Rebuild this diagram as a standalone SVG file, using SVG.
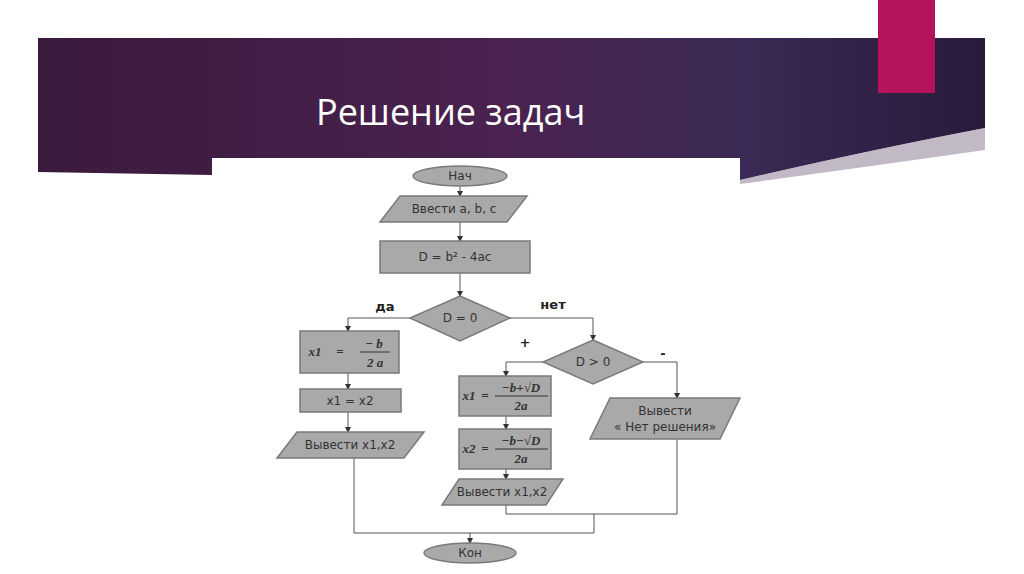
<svg xmlns="http://www.w3.org/2000/svg" width="1024" height="574" viewBox="0 0 1024 574">
<defs>
<linearGradient id="bg" x1="0" y1="0" x2="1" y2="0">
<stop offset="0" stop-color="#3a1a3c"/><stop offset="0.5" stop-color="#4a2350"/><stop offset="0.75" stop-color="#3a2a55"/><stop offset="1" stop-color="#2a1a3a"/>
</linearGradient>
<marker id="ar" markerWidth="6" markerHeight="6" refX="5" refY="3" orient="auto" markerUnits="userSpaceOnUse"><path d="M0,0 L6,3 L0,6 z" fill="#333"/></marker>
<style>
.sh{fill:#a9a9a9;stroke:#7a7a7a;stroke-width:1.5}
.t{font-family:"DejaVu Sans",sans-serif;font-size:12px;fill:#333;text-anchor:middle}
.m{font-family:"Liberation Serif",serif;font-style:italic;font-weight:bold;font-size:13px;fill:#333;text-anchor:middle}
.c{fill:none;stroke:#555;stroke-width:1}
.l{font-family:"DejaVu Sans",sans-serif;font-size:13px;font-weight:bold;fill:#222;text-anchor:middle}
</style>
</defs>
<rect width="1024" height="574" fill="#fff"/>
<path d="M38,38 H985 V128 Q870,150 740,180 L212,168 L212,175 L38,172 Z" fill="url(#bg)"/>
<path d="M740,180 Q870,150 985,128 V150 Q880,165 740,184 Z" fill="#9a8aa0" opacity="0.6"/>
<rect x="878" y="0" width="57" height="93" fill="#b5135c"/>
<text x="316" y="125" font-family="'Open Sans',sans-serif" font-size="36" fill="#fff">Решение задач</text>
<rect x="212" y="158" width="528" height="416" fill="#fff"/>
<g id="connectors">
<path class="c" d="M460,186 V196" marker-end="url(#ar)"/>
<path class="c" d="M460,222 V241" marker-end="url(#ar)"/>
<path class="c" d="M460,273 V296" marker-end="url(#ar)"/>
<path class="c" d="M410,318 H348 V331" marker-end="url(#ar)"/>
<path class="c" d="M510,318 H593 V340" marker-end="url(#ar)"/>
<path class="c" d="M348,373 V389" marker-end="url(#ar)"/>
<path class="c" d="M348,412 V432" marker-end="url(#ar)"/>
<path class="c" d="M543,362 H506 V376" marker-end="url(#ar)"/>
<path class="c" d="M506,416 V429" marker-end="url(#ar)"/>
<path class="c" d="M506,469 V479" marker-end="url(#ar)"/>
<path class="c" d="M643,362 H677 V398" marker-end="url(#ar)"/>
<path class="c" d="M677,439 V514 H506"/>
<path class="c" d="M506,505 V514"/>
<path class="c" d="M594,514 V533"/>
<path class="c" d="M354,458 V533 H594"/>
<path class="c" d="M470,533 V543" marker-end="url(#ar)"/>
<text class="l" x="385" y="311">да</text>
<text class="l" x="553" y="309">нет</text>
<text class="l" x="525" y="347">+</text>
<text class="l" x="663" y="358">-</text>
</g>
<g id="start"><ellipse class="sh" cx="460" cy="176" rx="47" ry="10"/><text class="t" x="460" y="180">Нач</text></g>
<g id="input"><polygon class="sh" points="400,196 527,196 507,222 380,222"/><text class="t" x="454" y="213">Ввести a, b, c</text></g>
<g id="calcD"><rect class="sh" x="380" y="241" width="150" height="32"/><text class="t" x="455" y="261">D = b² - 4ac</text></g>
<g id="dec1"><polygon class="sh" points="460,296 510,318 460,341 410,318"/><text class="t" x="460" y="322">D = 0</text></g>
<g id="x1a"><rect class="sh" x="300" y="331" width="99" height="42"/>
<text class="m" x="315" y="356">x1</text><text class="m" x="340" y="356">=</text><text class="m" x="374" y="348">− b</text><line x1="360" y1="352" x2="390" y2="352" stroke="#333"/><text class="m" x="375" y="367">2 a</text></g>
<g id="x1x2"><rect class="sh" x="300" y="389" width="101" height="23"/><text class="t" x="350" y="405">x1 = x2</text></g>
<g id="out1"><polygon class="sh" points="297,432 424,432 404,458 277,458"/><text class="t" x="350" y="449">Вывести x1,x2</text></g>
<g id="dec2"><polygon class="sh" points="593,340 643,362 593,384 543,362"/><text class="t" x="593" y="366">D &gt; 0</text></g>
<g id="x1b"><rect class="sh" x="459" y="376" width="92" height="40"/>
<text class="m" x="469" y="400">x1</text><text class="m" x="485" y="400">=</text><text class="m" x="521" y="392">−b+√D</text><line x1="495" y1="396" x2="548" y2="396" stroke="#333"/><text class="m" x="521" y="410">2a</text></g>
<g id="x2b"><rect class="sh" x="459" y="429" width="92" height="40"/>
<text class="m" x="469" y="453">x2</text><text class="m" x="485" y="453">=</text><text class="m" x="521" y="445">−b−√D</text><line x1="495" y1="449" x2="548" y2="449" stroke="#333"/><text class="m" x="521" y="463">2a</text></g>
<g id="out2"><polygon class="sh" points="459,479 563,479 546,505 442,505"/><text class="t" x="502" y="496">Вывести x1,x2</text></g>
<g id="out3"><polygon class="sh" points="610,398 740,398 720,439 590,439"/><text class="t" x="665" y="415">Вывести</text><text class="t" x="665" y="431">« Нет решения»</text></g>
<g id="end"><ellipse class="sh" cx="470" cy="553" rx="46" ry="10"/><text class="t" x="470" y="557">Кон</text></g>
</svg>
